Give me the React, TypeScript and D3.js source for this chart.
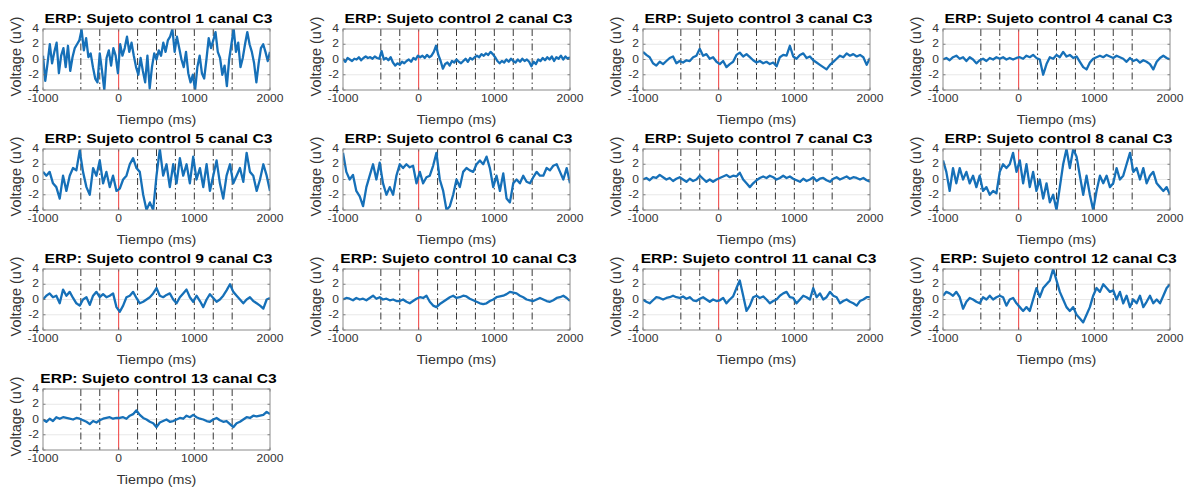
import React from "react";
import * as d3 from "d3";

const T30 = [-1000,-970,-940,-910,-880,-850,-820,-790,-760,-730,-700,-670,-640,-610,-580,-550,-520,-490,-460,-430,-400,-370,-340,-310,-280,-250,-220,-190,-160,-130,-100,-70,-40,-10,20,50,80,110,140,170,200,230,260,290,320,350,380,410,440,470,500,530,560,590,620,650,680,710,740,770,800,830,860,890,920,950,980,1010,1040,1070,1100,1130,1160,1190,1220,1250,1280,1310,1340,1370,1400,1430,1460,1490,1520,1550,1580,1610,1640,1670,1700,1730,1760,1790,1820,1850,1880,1910,1940,1970,2000];
const T44 = [-1000,-956,-912,-868,-824,-779,-735,-691,-647,-603,-559,-515,-471,-426,-382,-338,-294,-250,-206,-162,-118,-74,-29,15,59,103,147,191,235,279,324,368,412,456,500,544,588,632,676,721,765,809,853,897,941,985,1029,1074,1118,1162,1206,1250,1294,1338,1382,1426,1471,1515,1559,1603,1647,1691,1735,1779,1824,1868,1912,1956,2000];

const subject1 = [0.5,-2.8,-0.5,2.0,-0.5,1.0,2.2,-1.8,0.5,1.5,-1.0,1.8,-1.5,0.3,1.5,2.0,2.5,3.9,1.2,2.8,0.3,0.8,-1.0,-2.5,-3.0,0.8,-1.5,-4.0,0.2,1.2,-0.8,1.5,0.5,-1.8,2.0,0.5,1.5,3.0,1.0,2.2,0.5,-1.0,-2.0,0.2,-1.5,-3.0,0.5,-3.8,-1.0,0.8,0.0,1.2,0.5,2.2,1.0,2.5,3.0,4.0,1.0,3.0,1.5,0.0,-1.0,1.0,-1.8,-3.0,-2.0,-4.0,-1.0,0.5,-1.8,-2.5,0.0,2.8,1.5,2.5,3.6,1.0,0.2,-2.0,-0.8,-3.5,0.0,2.0,4.0,1.0,2.2,-1.0,0.2,2.0,3.6,2.0,1.0,-0.5,-3.0,-0.5,1.5,2.0,1.0,-0.2,1.0];
const subject2 = [0.1,-0.3,0.2,0.0,-0.2,0.1,0.0,0.3,-0.1,0.2,0.4,0.2,0.3,0.1,0.4,0.2,0.1,1.1,0.0,0.2,-0.1,0.3,-0.4,-0.8,-0.5,-0.7,-0.3,-0.5,-0.2,0.0,-0.3,0.2,0.0,0.5,0.3,0.5,0.2,0.6,0.3,0.5,1.0,1.8,0.6,-0.2,-1.2,-0.6,-0.4,-0.8,-0.2,-0.4,0.0,-0.3,-0.5,-0.2,0.1,-0.3,0.2,0.0,0.3,0.5,0.3,0.7,0.5,0.8,0.6,1.0,0.7,0.3,-0.2,-0.5,-0.2,-0.4,0.0,-0.3,0.1,-0.2,-0.4,0.0,-0.3,0.1,-0.2,0.0,-0.3,-0.9,-0.3,-0.6,0.0,-0.2,0.2,-0.1,0.3,0.0,0.4,-0.2,0.3,0.1,0.5,0.0,0.4,0.1,0.3];
const subject3 = [1.0,0.6,0.3,-0.5,-0.8,-0.3,-0.6,-0.2,0.2,0.4,-0.5,-0.2,-0.4,-0.1,-0.2,0.3,0.5,1.4,0.5,0.7,0.1,0.3,-0.3,-0.6,-0.2,-1.0,-0.6,-0.3,0.6,0.9,0.4,0.7,0.3,-0.1,-0.4,-0.2,-0.5,-0.3,-0.6,-0.4,-0.9,0.3,0.6,0.5,1.8,0.4,0.1,0.6,0.8,0.2,0.4,-0.1,-0.4,-0.7,-1.0,-1.3,-0.7,-0.3,0.1,0.5,0.3,0.8,0.5,0.7,0.4,0.6,0.3,-0.7,0.2];
const subject4 = [0.0,0.2,-0.1,0.3,0.5,0.1,0.3,-0.2,0.3,0.0,-0.5,-0.1,0.1,-0.2,0.2,0.0,0.3,0.1,0.3,0.0,0.2,0.0,0.2,0.3,0.1,0.5,0.3,0.6,0.2,0.0,-2.0,-0.6,0.3,0.1,0.6,0.3,1.0,0.4,0.6,0.2,0.4,-0.3,-1.0,-1.3,-0.4,0.1,0.3,0.5,0.3,0.6,0.4,0.2,0.5,0.3,0.1,-0.3,0.2,-0.2,0.0,-0.4,-0.1,-0.3,-0.6,-1.3,-0.3,0.2,0.5,0.2,0.0];
const subject5 = [1.0,0.5,1.0,-0.5,-1.0,-2.5,0.5,-1.5,0.5,1.5,1.2,3.8,1.0,-1.0,-2.0,1.5,0.5,2.5,-0.5,1.0,-1.0,0.5,-1.5,-1.2,0.0,0.5,2.0,2.8,1.5,1.0,-2.0,-4.0,-3.0,-4.0,0.5,4.0,0.5,2.0,-1.0,2.0,-0.5,2.8,0.5,2.0,-0.5,3.0,0.0,1.5,-1.0,2.0,-1.5,0.5,2.5,-0.5,-2.5,0.5,2.0,-0.5,0.5,1.5,-0.3,3.5,1.0,0.5,-1.5,0.0,2.0,0.5,-1.5];
const subject6 = [3.5,1.0,0.0,0.6,-1.5,-2.2,-3.5,-1.0,0.5,2.0,0.0,2.2,-0.5,-2.0,-1.0,-2.0,0.5,2.0,1.5,2.0,1.6,1.8,-0.5,1.0,-0.5,0.3,0.5,1.8,3.5,0.0,-1.5,-4.0,-3.5,-2.0,0.0,-1.0,1.0,1.5,1.2,1.0,2.0,2.5,2.0,3.0,1.5,-1.0,0.5,-1.5,0.8,-2.5,-3.0,-0.5,0.0,-0.5,0.5,-0.3,-0.5,0.3,1.0,0.5,0.5,1.5,1.2,1.8,2.0,1.0,0.0,1.5,-0.5];
const subject7 = [0.0,0.2,-0.1,0.3,0.2,0.6,0.3,0.0,0.2,-0.2,0.1,0.3,0.0,-0.3,0.1,-0.2,0.0,0.5,0.1,-0.3,0.0,-0.3,0.0,0.2,0.4,0.6,0.3,0.5,0.4,0.9,0.0,-0.5,-1.0,-0.5,-0.1,0.2,0.4,0.2,0.5,0.3,0.0,0.2,0.5,0.2,0.4,0.1,-0.1,-0.3,0.1,-0.2,0.0,0.3,-0.2,0.1,0.2,-0.1,-0.3,0.1,0.3,0.0,0.2,0.4,0.1,0.3,0.2,0.0,0.2,-0.1,-0.3];
const subject8 = [2.5,1.0,-1.5,1.5,-0.5,1.5,0.0,1.0,-0.5,0.5,-1.0,0.5,-1.5,-1.0,-2.0,-1.5,-1.8,1.0,2.0,1.5,2.0,3.5,1.0,2.5,-0.5,2.0,-1.0,1.0,-1.5,0.0,-2.5,-0.5,-3.0,-2.0,-4.0,-1.0,2.0,4.0,1.5,4.0,3.0,0.5,-2.0,0.5,-2.0,-4.0,-1.5,0.5,-0.5,0.5,-1.0,-0.5,1.5,0.0,0.5,2.0,3.5,1.0,1.5,0.0,1.5,-0.5,0.5,1.0,-0.5,-1.0,-1.5,-1.0,-2.0];
const subject9 = [0.0,0.5,0.8,0.3,0.5,-0.5,1.3,0.5,1.0,0.2,-0.5,-0.8,0.0,0.3,-0.7,0.5,1.0,0.3,0.7,0.3,0.5,0.8,-1.0,-1.6,-0.8,0.3,0.5,1.0,0.2,-0.5,-0.3,0.0,0.3,0.8,1.5,0.5,0.3,0.6,0.8,0.0,-0.5,0.3,0.8,1.3,0.3,-0.3,0.5,-0.2,-1.0,0.0,0.7,0.2,-0.3,0.0,0.5,1.2,2.0,1.0,0.5,0.0,-0.5,0.0,0.3,-0.2,-0.5,-0.8,-1.2,0.0,0.2];
const subject10 = [0.0,0.2,0.1,-0.1,0.2,0.0,0.1,-0.1,0.2,0.5,0.1,0.3,0.0,0.1,-0.1,0.0,-0.2,-0.2,0.0,-0.3,-0.5,-0.2,0.1,0.3,0.2,0.5,-0.3,-0.8,-1.0,-0.6,-0.3,0.0,0.3,0.5,0.2,0.3,0.5,0.4,0.1,-0.1,-0.3,-0.5,-0.6,-0.5,-0.2,0.0,0.3,0.4,0.5,0.7,1.0,0.9,0.8,0.5,0.3,0.0,-0.1,-0.2,0.0,0.2,0.0,-0.2,-0.3,-0.1,0.2,0.3,0.5,0.2,-0.2];
const subject11 = [0.0,-0.3,-0.5,-0.1,0.3,0.2,0.0,0.2,0.3,0.5,0.3,0.2,0.4,0.1,0.3,-0.1,-0.2,0.1,0.3,0.0,-0.3,0.0,-0.2,-0.1,0.2,-0.5,0.0,0.4,1.5,2.5,0.5,-1.5,-0.8,0.3,0.5,0.2,0.4,0.0,-0.5,-0.2,0.0,0.5,0.8,1.0,0.3,0.2,-0.5,0.0,0.5,0.3,0.0,1.5,0.3,0.8,0.0,0.3,1.0,0.5,0.3,-0.5,-0.2,0.0,-0.3,-0.5,-0.8,-0.2,0.0,0.3,0.3];
const subject12 = [0.5,1.0,0.8,0.5,1.0,0.3,-1.2,-0.3,0.2,0.0,-0.3,-0.5,0.3,0.0,0.5,0.0,0.3,0.5,0.3,-0.8,0.0,0.2,-0.5,-1.0,-1.5,-1.0,-1.5,0.0,1.5,0.3,1.5,2.0,2.5,4.0,2.5,1.0,0.0,-1.0,-1.5,-1.0,-2.0,-2.5,-3.0,-2.0,-1.0,0.5,1.5,1.0,2.0,1.5,1.0,1.2,0.0,1.0,-0.5,0.5,-1.0,0.0,-0.5,0.5,-1.0,-0.3,0.5,-0.5,0.0,-0.5,0.5,1.5,2.0];
const subject13 = [0.0,-0.3,0.1,-0.2,0.3,0.1,0.3,0.2,0.1,0.0,0.2,0.1,-0.1,-0.3,-0.6,-0.2,-0.4,-0.1,0.1,0.2,0.3,0.1,0.2,0.2,0.3,0.1,0.5,0.7,1.2,0.6,0.2,0.0,-0.3,-0.5,-1.0,-0.4,-0.2,0.0,-0.3,-0.2,0.0,0.2,0.1,0.5,0.3,0.6,0.3,0.1,0.0,-0.2,-0.3,0.0,0.2,-0.1,-0.3,-0.2,-0.6,-1.0,-0.5,-0.3,0.0,0.3,0.2,0.5,0.4,0.5,0.6,1.0,0.7];

const SUBJECTS = [
  { n: 1, t: T30, v: subject1 }, { n: 2, t: T30, v: subject2 },
  { n: 3, t: T44, v: subject3 }, { n: 4, t: T44, v: subject4 },
  { n: 5, t: T44, v: subject5 }, { n: 6, t: T44, v: subject6 },
  { n: 7, t: T44, v: subject7 }, { n: 8, t: T44, v: subject8 },
  { n: 9, t: T44, v: subject9 }, { n: 10, t: T44, v: subject10 },
  { n: 11, t: T44, v: subject11 }, { n: 12, t: T44, v: subject12 },
  { n: 13, t: T44, v: subject13 },
];

const X_TICKS = [-1000, 0, 1000, 2000];
const Y_TICKS = [-4, -2, 0, 2, 4];
const GRID_Y = [-2, 0, 2];
const EVENT_LINES = [-500, -250, 250, 500, 750, 1000, 1250, 1500];
const X_DOMAIN = [-1000, 2000];
const Y_DOMAIN = [-4, 4];

const FONT = "'Liberation Sans', Arial, Helvetica, sans-serif";
const W = 1189, H = 487;
const PW = 227, PH = 61;
const X0 = 43, Y0 = 29, DX = 300, DY = 120;

function Panel({ s, idx }: { s: any; idx: number }) {
  const col = idx % 4, row = Math.floor(idx / 4);
  const left = X0 + col * DX, top = Y0 + row * DY;
  const x = d3.scaleLinear().domain(X_DOMAIN).range([left, left + PW]);
  const y = d3.scaleLinear().domain(Y_DOMAIN).range([top + PH, top]);
  const pts: [number, number][] = s.v.map((v: number, i: number) => [s.t[i], v]).filter((p: any) => p[0] !== undefined);
  const line = d3.line<[number, number]>().x(d => x(d[0])).y(d => y(d[1]));
  const clipId = `clip${s.n}`;
  const cx = left + PW / 2;
  return (
    <g>
      <defs>
        <clipPath id={clipId}><rect x={left} y={top} width={PW} height={PH} /></clipPath>
      </defs>
      <rect x={left} y={top} width={PW} height={PH} fill="#fff" />
      {GRID_Y.map(g => (
        <line key={g} x1={left} x2={left + PW} y1={y(g)} y2={y(g)} stroke="#e2e2e2" strokeWidth={0.8} />
      ))}
      {EVENT_LINES.map(e => (
        <line key={e} x1={x(e)} x2={x(e)} y1={top} y2={top + PH} stroke="#222" strokeWidth={0.9} strokeDasharray="7,3,1.5,3" />
      ))}
      <line x1={x(0)} x2={x(0)} y1={top} y2={top + PH} stroke="#f03c3c" strokeWidth={1} />
      <path d={line(pts) || ""} fill="none" stroke="#1670b8" strokeWidth={2.3} strokeLinejoin="round" clipPath={`url(#${clipId})`} />
      {X_TICKS.map(t => (
        <g key={t}>
          <line x1={x(t)} x2={x(t)} y1={top + PH} y2={top + PH - 2.5} stroke="#666" strokeWidth={0.8} />
          <line x1={x(t)} x2={x(t)} y1={top} y2={top + 2.5} stroke="#666" strokeWidth={0.8} />
        </g>
      ))}
      {Y_TICKS.map(t => (
        <g key={t}>
          <line x1={left} x2={left + 2.5} y1={y(t)} y2={y(t)} stroke="#666" strokeWidth={0.8} />
          <line x1={left + PW} x2={left + PW - 2.5} y1={y(t)} y2={y(t)} stroke="#666" strokeWidth={0.8} />
        </g>
      ))}
      <rect x={left} y={top} width={PW} height={PH} fill="none" stroke="#8a8a8a" strokeWidth={1} />
      {Y_TICKS.map(t => (
        <text key={t} transform={`translate(${left - 4},${y(t) + 3}) scale(1.15,1)`} textAnchor="end" fontSize={10.5} fill="#333" fontFamily={FONT}>{t}</text>
      ))}
      {X_TICKS.map(t => (
        <text key={t} transform={`translate(${x(t)},${top + PH + 12}) scale(1.15,1)`} textAnchor="middle" fontSize={10.5} fill="#333" fontFamily={FONT}>{t}</text>
      ))}
      <text transform={`translate(${cx},${top + PH + 34}) scale(1.1,1)`} textAnchor="middle" fontSize={13} fill="#333" fontFamily={FONT}>Tiempo (ms)</text>
      <text transform={`translate(${left - 22},${top + PH / 2 - 3}) rotate(-90)`} textAnchor="middle" fontSize={14.5} fill="#333" fontFamily={FONT}>Voltage (uV)</text>
      <text transform={`translate(${cx + 2},${top - 6.5}) scale(1.3,1)`} textAnchor="middle" fontSize={12} fontWeight="bold" fill="#000" fontFamily={FONT}>{`ERP: Sujeto control ${s.n} canal C3`}</text>
    </g>
  );
}

export default function App() {
  return (
    <svg width={W} height={H} style={{ position: "absolute", left: 0, top: 0, background: "#fff" }}>
      <rect width={W} height={H} fill="#fff" />
      {SUBJECTS.map((s, i) => <Panel key={s.n} s={s} idx={i} />)}
    </svg>
  );
}
